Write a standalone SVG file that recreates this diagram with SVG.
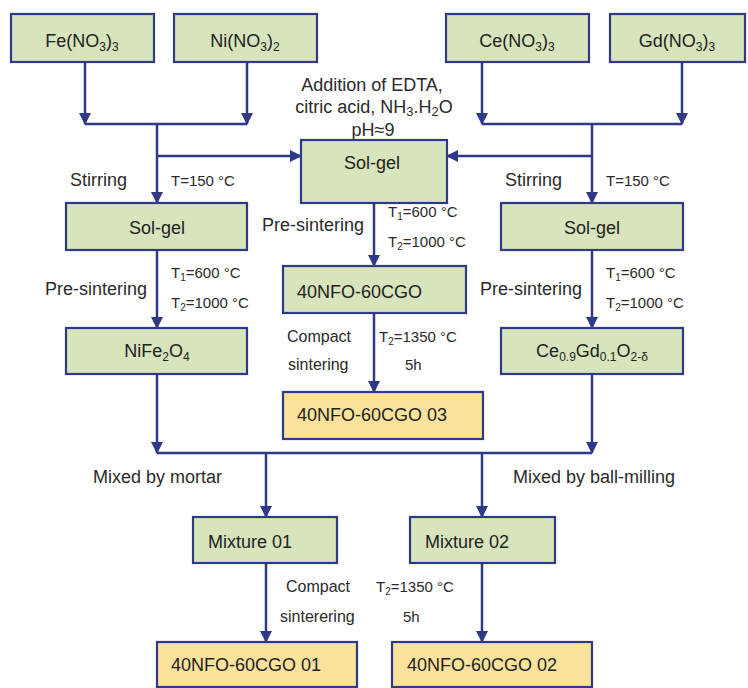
<svg xmlns="http://www.w3.org/2000/svg" width="748" height="688" viewBox="0 0 748 688">
<style>
.bg{fill:#ffffff}
.g{fill:#D8E4BC;stroke:#2E3A87;stroke-width:2.2}
.y{fill:#FCE29A;stroke:#2E3A87;stroke-width:2.2}
.t{font-family:"Liberation Sans",Arial,sans-serif;font-size:18px;fill:#222}
.c{text-anchor:middle}
.l{font-family:"Liberation Sans",Arial,sans-serif;font-size:18px;fill:#2a2a2a}
.s{font-family:"Liberation Sans",Arial,sans-serif;font-size:15px;fill:#2a2a2a}
.m{font-family:"Liberation Sans",Arial,sans-serif;font-size:16px;fill:#2a2a2a}
.a{font-family:"Liberation Sans",Arial,sans-serif;font-size:18px;fill:#2a2a2a;text-anchor:middle}
.ln{fill:none;stroke:#2E3A87;stroke-width:2.5}
.ar{marker-end:url(#ah)}
</style>
<defs>
<marker id="ah" markerUnits="userSpaceOnUse" markerWidth="12" markerHeight="12" refX="11" refY="6" orient="auto">
<path d="M0,0 L12,6 L0,12 z" fill="#2E3A87"/>
</marker>
</defs>
<rect class="bg" x="0" y="0" width="748" height="688"/>

<g id="labels">
<text class="a" x="372" y="91">Addition of EDTA,</text>
<text class="a" x="374" y="113">citric acid, NH<tspan font-size="13" dy="3">3</tspan><tspan dy="-3">.H</tspan><tspan font-size="13" dy="3">2</tspan><tspan dy="-3">O</tspan></text>
<text class="a" x="373" y="136">pH≈9</text>
<text class="l" x="70" y="186">Stirring</text>
<text class="s" x="171" y="186">T=150 °C</text>
<text class="l" x="505" y="186">Stirring</text>
<text class="s" x="606" y="186">T=150 °C</text>
<text class="l" x="45" y="295">Pre-sintering</text>
<text class="s" x="171" y="278">T<tspan font-size="10" dy="3">1</tspan><tspan dy="-3">=600 °C</tspan></text>
<text class="s" x="171" y="308">T<tspan font-size="10" dy="3">2</tspan><tspan dy="-3">=1000 °C</tspan></text>
<text class="l" x="262" y="231">Pre-sintering</text>
<text class="s" x="388" y="217">T<tspan font-size="10" dy="3">1</tspan><tspan dy="-3">=600 °C</tspan></text>
<text class="s" x="388" y="247">T<tspan font-size="10" dy="3">2</tspan><tspan dy="-3">=1000 °C</tspan></text>
<text class="l" x="480" y="295">Pre-sintering</text>
<text class="s" x="606" y="278">T<tspan font-size="10" dy="3">1</tspan><tspan dy="-3">=600 °C</tspan></text>
<text class="s" x="606" y="308">T<tspan font-size="10" dy="3">2</tspan><tspan dy="-3">=1000 °C</tspan></text>
<text class="m" x="287" y="342">Compact</text>
<text class="m" x="288" y="370">sintering</text>
<text class="s" x="379" y="342">T<tspan font-size="10" dy="3">2</tspan><tspan dy="-3">=1350 °C</tspan></text>
<text class="s" x="405" y="370">5h</text>
<text class="l" x="93" y="483">Mixed by mortar</text>
<text class="l" x="513" y="483">Mixed by ball-milling</text>
<text class="m" x="286" y="592">Compact</text>
<text class="m" x="280" y="622">sinterering</text>
<text class="s" x="376" y="592">T<tspan font-size="10" dy="3">2</tspan><tspan dy="-3">=1350 °C</tspan></text>
<text class="s" x="403" y="622">5h</text>
</g>

<g id="connectors">
<path class="ln ar" d="M85,62 V124"/>
<path class="ln ar" d="M247,62 V124"/>
<path class="ln" d="M85,124 H247"/>
<path class="ln ar" d="M157,124 V203"/>
<path class="ln ar" d="M157,156 H301"/>
<path class="ln ar" d="M482,62 V124"/>
<path class="ln ar" d="M682,62 V124"/>
<path class="ln" d="M482,124 H682"/>
<path class="ln ar" d="M592,124 V203"/>
<path class="ln ar" d="M592,156 H447"/>
<path class="ln ar" d="M374,203 V266"/>
<path class="ln ar" d="M374,313 V392"/>
<path class="ln ar" d="M157,250 V328"/>
<path class="ln ar" d="M157,374 V453"/>
<path class="ln ar" d="M592,250 V328"/>
<path class="ln ar" d="M592,374 V453"/>
<path class="ln" d="M157,453 H592"/>
<path class="ln ar" d="M266,453 V517"/>
<path class="ln ar" d="M482,453 V517"/>
<path class="ln ar" d="M266,563 V642"/>
<path class="ln ar" d="M482,563 V642"/>
</g>

<g id="fe">
<rect class="g" x="11" y="14" width="143" height="48"/>
<text class="t c" x="82" y="47">Fe(NO<tspan font-size="12" dy="4">3</tspan><tspan dy="-4">)</tspan><tspan font-size="12" dy="4">3</tspan></text>
</g>
<g id="ni">
<rect class="g" x="174" y="14" width="143" height="48"/>
<text class="t c" x="245" y="47">Ni(NO<tspan font-size="12" dy="4">3</tspan><tspan dy="-4">)</tspan><tspan font-size="12" dy="4">2</tspan></text>
</g>
<g id="ce">
<rect class="g" x="446" y="14" width="143" height="48"/>
<text class="t c" x="517" y="47">Ce(NO<tspan font-size="12" dy="4">3</tspan><tspan dy="-4">)</tspan><tspan font-size="12" dy="4">3</tspan></text>
</g>
<g id="gd">
<rect class="g" x="610" y="14" width="135" height="48"/>
<text class="t c" x="677" y="47">Gd(NO<tspan font-size="12" dy="4">3</tspan><tspan dy="-4">)</tspan><tspan font-size="12" dy="4">3</tspan></text>
</g>
<g id="solgel-center">
<rect class="g" x="301" y="140" width="146" height="63"/>
<text class="t c" x="372" y="169">Sol-gel</text>
</g>
<g id="solgel-left">
<rect class="g" x="66" y="203" width="181" height="47"/>
<text class="t c" x="157" y="234">Sol-gel</text>
</g>
<g id="solgel-right">
<rect class="g" x="501" y="203" width="182" height="47"/>
<text class="t c" x="592" y="234">Sol-gel</text>
</g>
<g id="nfo-cgo">
<rect class="g" x="283" y="266" width="183" height="47"/>
<text class="t" x="297" y="298">40NFO-60CGO</text>
</g>
<g id="nife2o4">
<rect class="g" x="66" y="328" width="181" height="46"/>
<text class="t c" x="157" y="357">NiFe<tspan font-size="12" dy="4">2</tspan><tspan dy="-4">O</tspan><tspan font-size="12" dy="4">4</tspan></text>
</g>
<g id="cgo">
<rect class="g" x="501" y="328" width="182" height="46"/>
<text class="t c" x="592" y="357">Ce<tspan font-size="12" dy="4">0.9</tspan><tspan dy="-4">Gd</tspan><tspan font-size="12" dy="4">0.1</tspan><tspan dy="-4">O</tspan><tspan font-size="12" dy="4">2-δ</tspan></text>
</g>
<g id="sample03">
<rect class="y" x="283" y="392" width="200" height="47"/>
<text class="t" x="297" y="421">40NFO-60CGO 03</text>
</g>
<g id="mixture01">
<rect class="g" x="193" y="517" width="144" height="46"/>
<text class="t" x="208" y="548">Mixture 01</text>
</g>
<g id="mixture02">
<rect class="g" x="410" y="517" width="145" height="46"/>
<text class="t" x="425" y="548">Mixture 02</text>
</g>
<g id="sample01">
<rect class="y" x="157" y="642" width="200" height="45"/>
<text class="t" x="171" y="671">40NFO-60CGO 01</text>
</g>
<g id="sample02">
<rect class="y" x="392" y="642" width="200" height="45"/>
<text class="t" x="407" y="671">40NFO-60CGO 02</text>
</g>
</svg>
